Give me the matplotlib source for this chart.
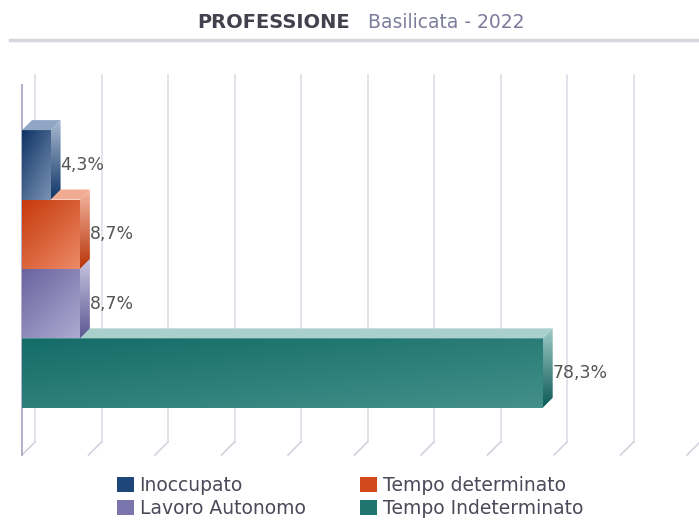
import matplotlib.pyplot as plt
import numpy as np
from matplotlib.patches import Polygon, Patch
from matplotlib.lines import Line2D
from matplotlib.colors import LinearSegmentedColormap

categories = ['Inoccupato', 'Tempo determinato', 'Lavoro Autonomo', 'Tempo Indeterminato']
values = [4.3, 8.7, 8.7, 78.3]
labels = ['4,3%', '8,7%', '8,7%', '78,3%']

# front colours (dark, light), side (light, dark), top
front_cols = [('#0f3566', '#7a92b4'), ('#c7390a', '#ec8a68'),
              ('#6a63a0', '#aeaad0'), ('#146c68', '#44908a')]
side_cols = [('#a9bad2', '#0f3566'), ('#f4b8a2', '#b8340a'),
             ('#c9c6e2', '#5f5994'), ('#9fcac6', '#0b5a56')]
top_cols = ['#8fa6c4', '#f2ab93', '#c4c1de', '#a9d0cc']
legend_cols = ['#1e4678', '#d24a1c', '#7b75ad', '#1f7570']

W, H = 699, 521
fig = plt.figure(figsize=(W / 100, H / 100), dpi=100)
ax = fig.add_axes([22 / W, (H - 455) / H, 665 / W, 370 / H])
ax.set_xlim(0, 100)
ax.set_ylim(-1.18, 4.15)
ax.axis('off')

px_x = 100 / 665
px_y = (4.15 + 1.18) / 370

# back wall grid + floor slants
gdx, gdy = 13 * px_x, 13 * px_y
y0, y1 = ax.get_ylim()
for t in range(0, 101, 10):
    ax.plot([t + gdx, t + gdx], [y0 + gdy, y1 + gdy - 3 * px_y], color='#dedee9', lw=1.2,
            clip_on=False, zorder=0)
    ax.plot([t, t + gdx], [y0, y0 + gdy], color='#d2d2e0', lw=1.2,
            clip_on=False, zorder=0)
ax.plot([0, 0], [y0, y1], color='#a9a9c4', lw=1.3, clip_on=False, zorder=1)


def grad(patch, c1, c2, mode, z):
    cmap = LinearSegmentedColormap.from_list('g', [c1, c2])
    xs = np.linspace(0, 1, 64)
    ys = np.linspace(0, 1, 64)
    X, Y = np.meshgrid(xs, ys)
    if mode == 'diag':
        G = 0.45 * X + 0.55 * (1 - Y)
    else:
        G = 1 - Y
    if hasattr(patch, 'get_width'):
        x0, yb = patch.get_x(), patch.get_y()
        ext = (x0, x0 + patch.get_width(), yb, yb + patch.get_height())
    else:
        verts = np.array(patch.get_xy())
        ext = (verts[:, 0].min(), verts[:, 0].max(), verts[:, 1].min(), verts[:, 1].max())
    im = ax.imshow(G, cmap=cmap, extent=ext, origin='lower', aspect='auto',
                   interpolation='bicubic', zorder=z)
    im.set_clip_path(patch)


pos = np.arange(len(values))[::-1]
bars = ax.barh(pos, values, height=1.0, color='none', edgecolor='none')

bdx, bdy = 10 * px_x, 10 * px_y
# draw from bottom bar up so upper front faces cover lower top faces
for k, i in enumerate(np.argsort(pos)):
    b = bars[i]
    v = values[i]
    yb, yt = b.get_y(), b.get_y() + b.get_height()
    z = 2 + k
    b.set_zorder(z)
    grad(b, front_cols[i][0], front_cols[i][1], 'diag', z)
    top = Polygon([(0, yt), (v, yt), (v + bdx, yt + bdy), (bdx, yt + bdy)],
                  closed=True, facecolor=top_cols[i], edgecolor='none', zorder=z)
    ax.add_patch(top)
    side = Polygon([(v, yb), (v, yt), (v + bdx, yt + bdy), (v + bdx, yb + bdy)],
                   closed=True, facecolor='none', edgecolor='none', zorder=z)
    ax.add_patch(side)
    grad(side, side_cols[i][0], side_cols[i][1], 'vert', z)
    ax.text(v + 10 * px_x, pos[i], labels[i], ha='left', va='center',
            fontsize=12.5, color='#555555', zorder=10)

ax.set_xlim(0, 100)
ax.set_ylim(y0, y1)

# title
fig.text(197 / W, 1 - 28 / H, 'PROFESSIONE', fontsize=14, fontweight='bold',
         color='#42424f', va='baseline', ha='left')
fig.text(368 / W, 1 - 28 / H, 'Basilicata - 2022', fontsize=13.5,
         color='#7c7c9c', va='baseline', ha='left')
fig.add_artist(Line2D([10 / W, 1], [1 - 40 / H] * 2, color='#d6d6de', lw=2.5))

# legend (column-wise fill)
order = [0, 2, 1, 3]
handles = [Patch(facecolor=legend_cols[i], edgecolor='none') for i in order]
fig.legend(handles, [categories[i] for i in order], ncol=2, frameon=False,
           loc='upper left', bbox_to_anchor=(117 / W, 1 - 476 / H),
           borderpad=0, borderaxespad=0, fontsize=13.5, handlelength=0.9,
           handleheight=0.9, handletextpad=0.3, labelspacing=0.2,
           columnspacing=2.92, labelcolor='#4a4a5a')

plt.savefig('out.png', dpi=100)
